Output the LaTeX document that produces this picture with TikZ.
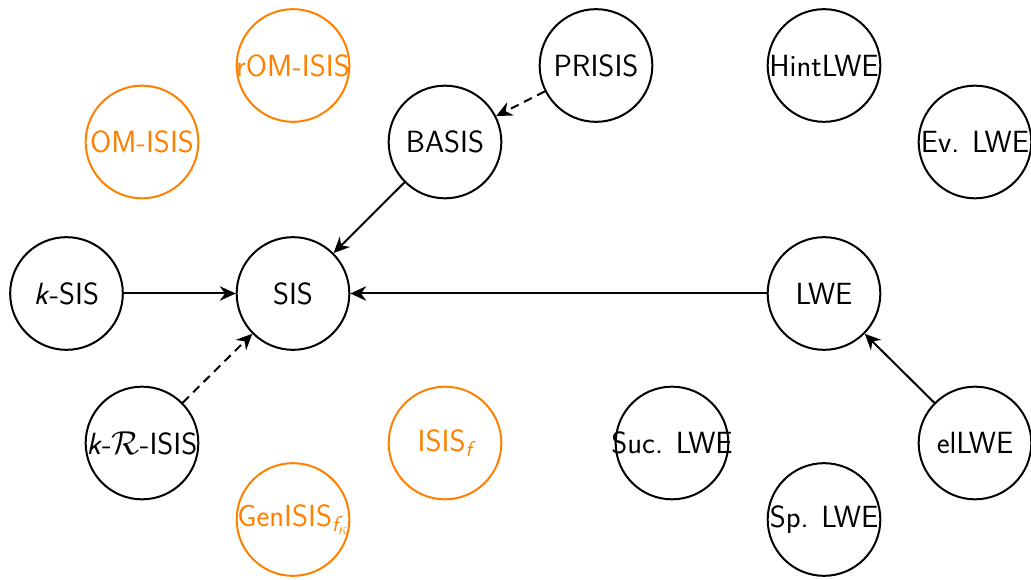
\documentclass[tikz,border=0pt]{standalone}
\usepackage{amsmath}
\usetikzlibrary{arrows.meta}
\begin{document}
\begin{tikzpicture}[x=0.75pt,y=-0.75pt,
  prob/.style={circle,draw,line width=1.5pt,minimum size=84.5pt,inner sep=0pt,
    font=\fontsize{23}{27}\selectfont\sffamily,
    % labels may spill over the rim without widening the circle
    execute at begin node={\hbox to 0pt\bgroup\hss},
    execute at end node={\hss\egroup}},
  open/.style={prob,draw=orange,text=orange},
  red/.style={line width=1.5pt,-{Stealth[length=12pt,width=11pt,inset=4pt]}},
  weak/.style={red,dash pattern=on 6.5pt off 4.5pt}]
\useasboundingbox (0,0) rectangle (1031,580);

% assumptions
\node[open] (romisis) at (293,65.5) {rOM-ISIS};
\node[open] (omisis) at (142,142) {OM-ISIS};
\node[prob] (prisis) at (596,65.5) {PRISIS};
\node[prob] (basis) at (445,142) {BASIS};
\node[prob] (hintlwe) at (824,65.5) {HintLWE};
\node[prob] (evlwe) at (975,142) {Ev. LWE};
\node[prob] (ksis) at (66.5,293.5) {\textit{k}-SIS};
\node[prob] (sis) at (293,293.5) {SIS};
\node[prob] (lwe) at (824,293.5) {LWE};
\node[prob] (krisis) at (142,443) {\textit{k}-$\mathcal{R}$-ISIS};
\node[open] (isisf) at (445,443) {ISIS$_{\text{\itshape f}}$};
\node[prob] (suclwe) at (672,443) {Suc. LWE};
\node[prob] (ellwe) at (975,443) {elLWE};
\node[open] (genisis) at (293,519.5) {GenISIS$_{\text{\itshape f}_{\kappa}}$};
\node[prob] (splwe) at (824,519.5) {Sp. LWE};

% reductions
\draw[red] (ksis) -- (sis);
\draw[red] (basis) -- (sis);
\draw[weak] (prisis) -- (basis);
\draw[red] (lwe) -- (sis);
\draw[weak] (krisis) -- (sis);
\draw[red] (ellwe) -- (lwe);
\end{tikzpicture}
\end{document}
